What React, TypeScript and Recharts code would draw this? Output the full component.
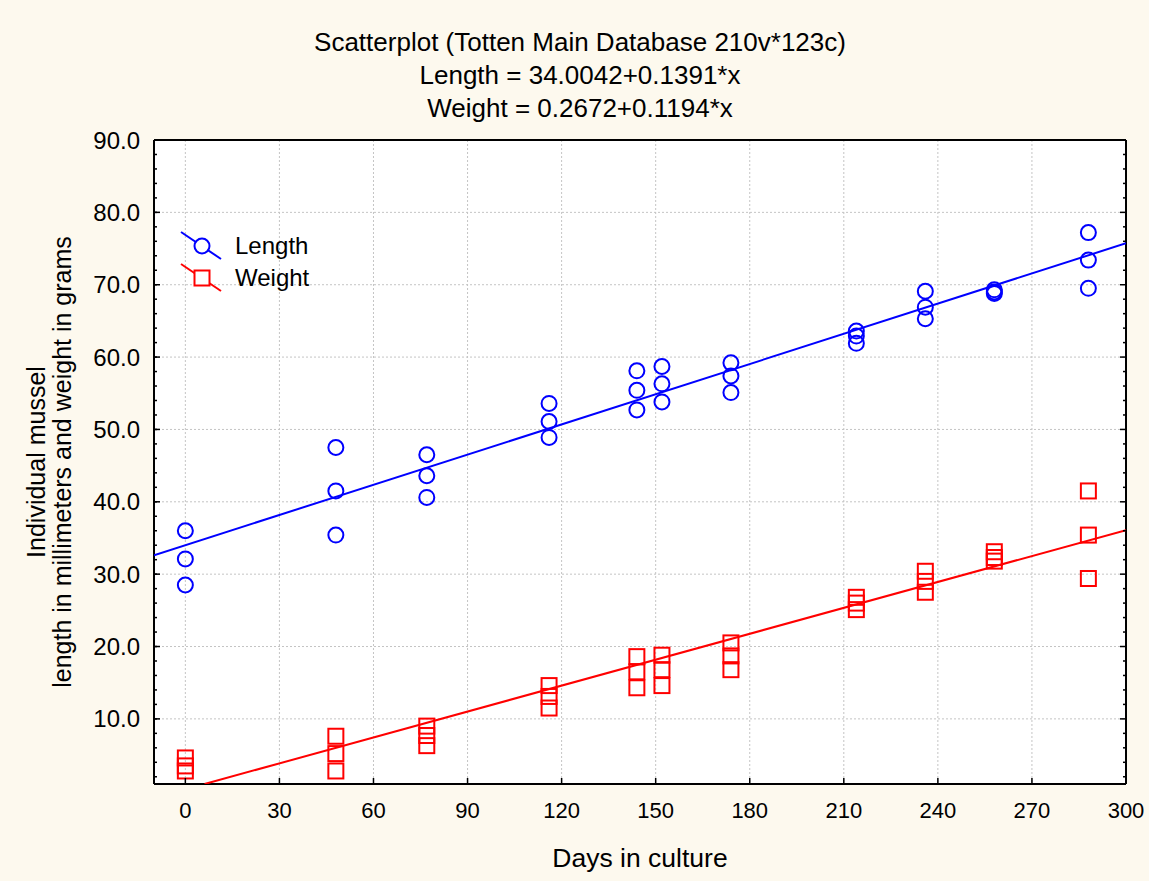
import React from 'react';
import { ScatterChart, Scatter, XAxis, YAxis, CartesianGrid, Legend } from 'recharts';

// sampling days (x) and the three mussels measured on each day
const days = [0, 48, 77, 116, 144, 152, 174, 214, 236, 258, 288];

const lengthMm = [
  [36.0, 32.1, 28.5],
  [47.5, 41.5, 35.4],
  [46.5, 43.6, 40.6],
  [53.6, 51.1, 48.9],
  [58.1, 55.4, 52.7],
  [58.7, 56.3, 53.8],
  [59.2, 57.4, 55.1],
  [63.6, 62.9, 61.9],
  [69.1, 66.9, 65.3],
  [69.3, 69.0, 68.8],
  [77.2, 73.4, 69.5],
];

const weightG = [
  [4.6, 3.5, 2.8],
  [7.6, 5.2, 2.8],
  [9.0, 7.7, 6.3],
  [14.6, 13.1, 11.5],
  [18.6, 16.5, 14.3],
  [18.8, 16.8, 14.6],
  [20.5, 18.7, 16.8],
  [26.8, 26.0, 25.1],
  [30.4, 29.0, 27.5],
  [33.1, 32.3, 31.8],
  [41.5, 35.4, 29.4],
];

// regression coefficients printed in the header
const lengthFit = { a: 34.0042, b: 0.1391 };
const weightFit = { a: 0.2672, b: 0.1194 };

const seriesNames = ['Length', 'Weight'];

const xTicks = [0, 30, 60, 90, 120, 150, 180, 210, 240, 270, 300];
const yTicks = [10, 20, 30, 40, 50, 60, 70, 80, 90];
const xMinorTicks = Array.from({ length: 52 }, (_, i) => -6 + i * 6);
const yMinorTicks = Array.from({ length: 45 }, (_, i) => 2 + i * 2);

const X_DOMAIN: [number, number] = [-10, 300];
const Y_DOMAIN: [number, number] = [1, 90];

const titleLines = [
  'Scatterplot (Totten Main Database 210v*123c)',
  `${seriesNames[0]} = ${lengthFit.a}+${lengthFit.b}*x`,
  `${seriesNames[1]} = ${weightFit.a}+${weightFit.b}*x`,
];
const yTitleLines = ['Individual mussel', 'length in millimeters and weight in grams'];

const BLUE = '#0000ff';
const RED = '#ff0000';
const BG = '#fdf9ee';
const FONT = '"Liberation Sans", Arial, sans-serif';

const lengthPoints = days.flatMap((d, i) => lengthMm[i].map((v) => ({ x: d, y: v })));
const weightPoints = days.flatMap((d, i) => weightG[i].map((v) => ({ x: d, y: v })));

// regression line across the visible x range, starting where it enters the y range
const fitLine = (fit: { a: number; b: number }) => {
  const x0 = Math.max(X_DOMAIN[0], (Y_DOMAIN[0] - fit.a) / fit.b);
  return [x0, X_DOMAIN[1]].map((x) => ({ x, y: fit.a + fit.b * x }));
};
const lengthLine = fitLine(lengthFit);
const weightLine = fitLine(weightFit);

const MINOR = 3;
const MAJOR = 6;

const CircleMark = (p: any) => (
  <circle cx={p.cx} cy={p.cy} r={7.5} fill="none" stroke={BLUE} strokeWidth={2} />
);
const SquareMark = (p: any) => (
  <rect x={p.cx - 7.5} y={p.cy - 7.5} width={15} height={15} fill="none" stroke={RED} strokeWidth={2} />
);
const NoMark = () => <g />;

function BottomTick({ x, y, payload }: any) {
  return (
    <g>
      <line x1={x} x2={x} y1={y} y2={y - MAJOR} stroke="#000" strokeWidth={1.5} />
      <text x={x} y={y + 34} textAnchor="middle" fontSize={22} fill="#000">
        {payload.value}
      </text>
    </g>
  );
}

function LeftTick({ x, y, payload }: any) {
  return (
    <g>
      <line x1={x} x2={x + MAJOR} y1={y} y2={y} stroke="#000" strokeWidth={1.5} />
      <text x={x - 14} y={y + 8.5} textAnchor="end" fontSize={24} fill="#000">
        {Number(payload.value).toFixed(1)}
      </text>
    </g>
  );
}

const BottomMinorTick = ({ x, y }: any) => (
  <line x1={x} x2={x} y1={y} y2={y - MINOR} stroke="#000" strokeWidth={1.5} />
);
const LeftMinorTick = ({ x, y }: any) => (
  <line x1={x} x2={x + MINOR} y1={y} y2={y} stroke="#000" strokeWidth={1.5} />
);
const TopTick = ({ x, y, payload }: any) => {
  const len = payload.value % 30 === 0 ? MAJOR : MINOR;
  return <line x1={x} x2={x} y1={y} y2={y + len} stroke="#000" strokeWidth={1.5} />;
};
const RightTick = ({ x, y, payload }: any) => {
  const len = payload.value % 10 === 0 ? MAJOR : MINOR;
  return <line x1={x} x2={x - len} y1={y} y2={y} stroke="#000" strokeWidth={1.5} />;
};

function LegendContent({ payload }: any) {
  const items = (payload || []).filter((e: any) => seriesNames.includes(e.value));
  return (
    <div style={{ fontSize: 24, color: '#000', fontFamily: FONT }}>
      {items.map((entry: any) => {
        const isLength = entry.value === seriesNames[0];
        const color = isLength ? BLUE : RED;
        return (
          <div key={entry.value} style={{ display: 'flex', alignItems: 'center', height: 32 }}>
            <svg width={57} height={32} style={{ display: 'block' }}>
              <line x1={3} y1={2} x2={43} y2={29} stroke={color} strokeWidth={2} />
              {isLength ? (
                <circle cx={24} cy={16} r={7.5} fill="#fff" stroke={color} strokeWidth={2} />
              ) : (
                <rect x={16.5} y={8.5} width={15} height={15} fill="#fff" stroke={color} strokeWidth={2} />
              )}
            </svg>
            <span>{entry.value}</span>
          </div>
        );
      })}
    </div>
  );
}

export default function App() {
  return (
    <div
      style={{
        position: 'absolute',
        left: 0,
        top: 0,
        width: 1149,
        height: 881,
        background: BG,
        fontFamily: FONT,
      }}
    >
      <ScatterChart width={1149} height={881} margin={{ top: 140, right: 23, bottom: 7, left: 14 }}>
        <CartesianGrid fill="#ffffff" fillOpacity={1} stroke="#c4c4c4" strokeDasharray="2 2" />
        <XAxis
          type="number"
          dataKey="x"
          domain={X_DOMAIN}
          ticks={xTicks}
          interval={0}
          allowDataOverflow
          height={90}
          tickLine={false}
          tickSize={0}
          tickMargin={0}
          axisLine={{ stroke: '#000', strokeWidth: 2 }}
          tick={<BottomTick />}
          label={{ value: 'Days in culture', position: 'insideBottom', offset: 7, fontSize: 26.5, fill: '#000' }}
        />
        <XAxis
          xAxisId="bottomMinor"
          type="number"
          domain={X_DOMAIN}
          ticks={xMinorTicks}
          interval={0}
          allowDataOverflow
          mirror
          height={1}
          tickLine={false}
          tickSize={0}
          tickMargin={0}
          axisLine={false}
          tick={<BottomMinorTick />}
        />
        <XAxis
          xAxisId="top"
          orientation="top"
          type="number"
          domain={X_DOMAIN}
          ticks={xMinorTicks}
          interval={0}
          allowDataOverflow
          mirror
          height={1}
          tickLine={false}
          tickSize={0}
          tickMargin={0}
          axisLine={{ stroke: '#000', strokeWidth: 2 }}
          tick={<TopTick />}
        />
        <YAxis
          type="number"
          dataKey="y"
          domain={Y_DOMAIN}
          ticks={yTicks}
          interval={0}
          allowDataOverflow
          width={140}
          tickLine={false}
          tickSize={0}
          tickMargin={0}
          axisLine={{ stroke: '#000', strokeWidth: 2 }}
          tick={<LeftTick />}
        />
        <YAxis
          yAxisId="leftMinor"
          type="number"
          domain={Y_DOMAIN}
          ticks={yMinorTicks}
          interval={0}
          allowDataOverflow
          mirror
          width={1}
          tickLine={false}
          tickSize={0}
          tickMargin={0}
          axisLine={false}
          tick={<LeftMinorTick />}
        />
        <YAxis
          yAxisId="right"
          orientation="right"
          type="number"
          domain={Y_DOMAIN}
          ticks={yMinorTicks}
          interval={0}
          allowDataOverflow
          mirror
          width={1}
          tickLine={false}
          tickSize={0}
          tickMargin={0}
          axisLine={{ stroke: '#000', strokeWidth: 2 }}
          tick={<RightTick />}
        />
        <Legend
          layout="vertical"
          align="center"
          verticalAlign="middle"
          wrapperStyle={{ left: 178, top: 230, width: 'auto' }}
          content={<LegendContent />}
        />
        <Scatter
          data={lengthLine}
          fill={BLUE}
          line={{ stroke: BLUE, strokeWidth: 2 }}
          shape={<NoMark />}
          legendType="none"
          isAnimationActive={false}
        />
        <Scatter
          data={weightLine}
          fill={RED}
          line={{ stroke: RED, strokeWidth: 2 }}
          shape={<NoMark />}
          legendType="none"
          isAnimationActive={false}
        />
        <Scatter name={seriesNames[0]} data={lengthPoints} fill={BLUE} shape={<CircleMark />} isAnimationActive={false} />
        <Scatter name={seriesNames[1]} data={weightPoints} fill={RED} shape={<SquareMark />} isAnimationActive={false} />
      </ScatterChart>

      <div
        style={{
          position: 'absolute',
          left: 180,
          top: 25.5,
          width: 800,
          textAlign: 'center',
          color: '#000',
          fontSize: 26,
        }}
      >
        {titleLines.map((t) => (
          <div key={t} style={{ height: 33, lineHeight: '33px', whiteSpace: 'nowrap' }}>
            {t}
          </div>
        ))}
      </div>

      <div
        style={{
          position: 'absolute',
          left: 49 - 300,
          top: 462 - 26,
          width: 600,
          height: 52,
          transform: 'rotate(-90deg)',
          textAlign: 'center',
          fontSize: 25,
          color: '#000',
        }}
      >
        {yTitleLines.map((t) => (
          <div key={t} style={{ height: 26, lineHeight: '26px', whiteSpace: 'nowrap' }}>
            {t}
          </div>
        ))}
      </div>
    </div>
  );
}
